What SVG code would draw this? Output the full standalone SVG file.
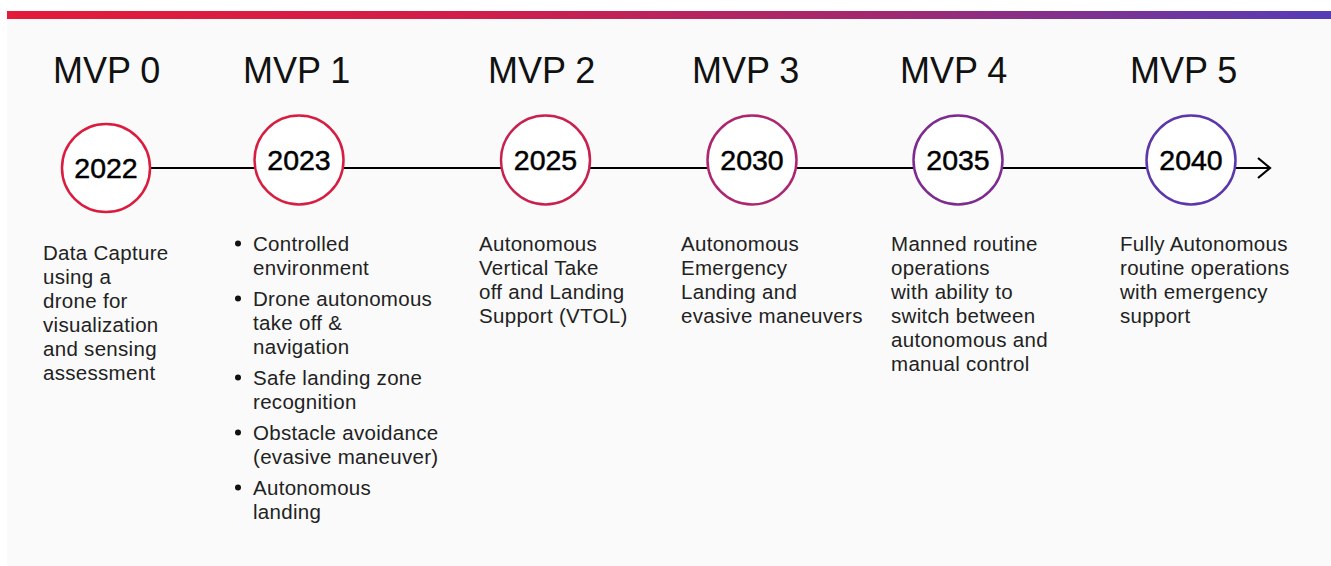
<svg xmlns="http://www.w3.org/2000/svg" width="1331" height="566" viewBox="0 0 1331 566">
<defs>
<linearGradient id="bar" x1="7" y1="0" x2="1331" y2="0" gradientUnits="userSpaceOnUse">
<stop offset="0" stop-color="#e41b3a"/>
<stop offset="0.35" stop-color="#d01e4a"/>
<stop offset="0.65" stop-color="#a3286f"/>
<stop offset="1" stop-color="#563db6"/>
</linearGradient>
<marker id="arrow" viewBox="0 0 16 24" refX="14" refY="12" markerWidth="16" markerHeight="24" markerUnits="userSpaceOnUse" orient="auto">
<path d="M2,2 L14,12 L2,22" fill="none" stroke="#000" stroke-width="2.2"/>
</marker>
<style>
.mvp{font-family:"Liberation Sans",Arial,sans-serif;font-size:36px;fill:#111;}
.yr{font-family:"Liberation Sans",Arial,sans-serif;font-size:28.5px;fill:#000;stroke:#000;stroke-width:0.5;text-anchor:middle;}
.node circle.ring{fill:#fff;stroke-width:2.5;}
.desc{font-family:"Liberation Sans",Arial,sans-serif;font-size:20.5px;letter-spacing:0.3px;fill:#222;}
.node circle.bul{fill:#111;stroke:none;}
</style>
</defs>
<rect x="0" y="0" width="1331" height="566" fill="#ffffff"/>
<rect x="7" y="19" width="1324" height="547" fill="#fafafa"/>
<rect x="7" y="11" width="1324" height="8" fill="url(#bar)"/>

<g id="connectors">
<line x1="150" y1="168" x2="1270" y2="168" stroke="#000" stroke-width="2" marker-end="url(#arrow)"/>
</g>

<g id="mvp0" class="node">
<text class="mvp" x="53" y="83">MVP 0</text>
<circle class="ring" cx="106" cy="168" r="44" stroke="#da1d3e"/>
<text class="yr" x="106" y="178">2022</text>
<text class="desc"><tspan x="43" y="260">Data Capture</tspan><tspan x="43" y="284">using a</tspan><tspan x="43" y="308">drone for</tspan><tspan x="43" y="332">visualization</tspan><tspan x="43" y="356">and sensing</tspan><tspan x="43" y="380">assessment</tspan></text>
</g>

<g id="mvp1" class="node">
<text class="mvp" x="243" y="83">MVP 1</text>
<circle class="ring" cx="299" cy="160" r="44.5" stroke="#d61e42"/>
<text class="yr" x="299" y="170">2023</text>
<circle class="bul" cx="238" cy="243.5" r="3"/>
<circle class="bul" cx="238" cy="298.5" r="3"/>
<circle class="bul" cx="238" cy="377.5" r="3"/>
<circle class="bul" cx="238" cy="432.5" r="3"/>
<circle class="bul" cx="238" cy="487.5" r="3"/>
<text class="desc"><tspan x="253" y="251">Controlled</tspan><tspan x="253" y="275">environment</tspan><tspan x="253" y="306">Drone autonomous</tspan><tspan x="253" y="330">take off &amp;</tspan><tspan x="253" y="354">navigation</tspan><tspan x="253" y="385">Safe landing zone</tspan><tspan x="253" y="409">recognition</tspan><tspan x="253" y="440">Obstacle avoidance</tspan><tspan x="253" y="464">(evasive maneuver)</tspan><tspan x="253" y="495">Autonomous</tspan><tspan x="253" y="519">landing</tspan></text>
</g>

<g id="mvp2" class="node">
<text class="mvp" x="488" y="83">MVP 2</text>
<circle class="ring" cx="545.5" cy="160" r="44.5" stroke="#c8204f"/>
<text class="yr" x="545.5" y="170">2025</text>
<text class="desc"><tspan x="479" y="251">Autonomous</tspan><tspan x="479" y="275">Vertical Take</tspan><tspan x="479" y="299">off and Landing</tspan><tspan x="479" y="323">Support (VTOL)</tspan></text>
</g>

<g id="mvp3" class="node">
<text class="mvp" x="692" y="83">MVP 3</text>
<circle class="ring" cx="752" cy="160" r="44.5" stroke="#ad266d"/>
<text class="yr" x="752" y="170">2030</text>
<text class="desc"><tspan x="681" y="251">Autonomous</tspan><tspan x="681" y="275">Emergency</tspan><tspan x="681" y="299">Landing and</tspan><tspan x="681" y="323">evasive maneuvers</tspan></text>
</g>

<g id="mvp4" class="node">
<text class="mvp" x="900" y="83">MVP 4</text>
<circle class="ring" cx="958" cy="160" r="44.5" stroke="#7d2b8e"/>
<text class="yr" x="958" y="170">2035</text>
<text class="desc"><tspan x="891" y="251">Manned routine</tspan><tspan x="891" y="275">operations</tspan><tspan x="891" y="299">with ability to</tspan><tspan x="891" y="323">switch between</tspan><tspan x="891" y="347">autonomous and</tspan><tspan x="891" y="371">manual control</tspan></text>
</g>

<g id="mvp5" class="node">
<text class="mvp" x="1130" y="83">MVP 5</text>
<circle class="ring" cx="1191" cy="160" r="44.5" stroke="#5b37a9"/>
<text class="yr" x="1191" y="170">2040</text>
<text class="desc"><tspan x="1120" y="251">Fully Autonomous</tspan><tspan x="1120" y="275">routine operations</tspan><tspan x="1120" y="299">with emergency</tspan><tspan x="1120" y="323">support</tspan></text>
</g>
</svg>
